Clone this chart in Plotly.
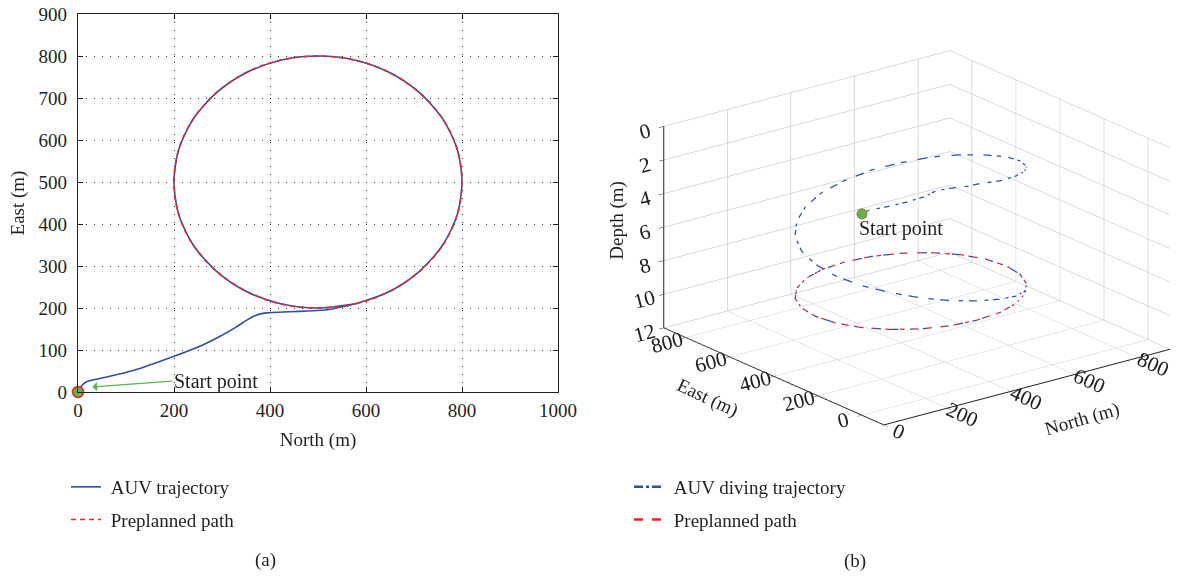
import plotly.graph_objects as go

W, H = 1180, 576
FONT = "Liberation Serif"
BLUE = "#2f4fa6"
RED = "#f0222a"
GREEN = "#5cb548"
INK = "#231f20"

# ---------------- panel (a): plan view ----------------
auv_north = [0, 5, 17, 45, 115, 200, 260, 300, 330, 350, 365, 380, 400, 440, 480,
             520, 560,
             578, 650, 712, 760, 790, 800, 790, 760, 712, 650, 578, 500, 422,
             350, 288, 240, 210, 200, 210, 240, 288, 350, 422, 500, 578]
auv_east = [0, 12, 24, 32, 51, 85, 112, 135, 155, 170, 180, 186, 189, 191, 193,
            196, 205,
            210, 240, 288, 350, 422, 500, 578, 650, 712, 760, 790, 800, 790,
            760, 712, 650, 578, 500, 422, 350, 288, 240, 210, 200, 210]

plan_north = [500, 578, 650, 712, 760, 790, 800, 790, 760, 712, 650, 578, 500,
              422, 350, 288, 240, 210, 200, 210, 240, 288, 350, 422, 500]
plan_east = [200, 210, 240, 288, 350, 422, 500, 578, 650, 712, 760, 790, 800,
             790, 760, 712, 650, 578, 500, 422, 350, 288, 240, 210, 200]

start_2d = (0, 0)
arrow_tip = (30, 12)
label_pos = (196, 26)

x_ticks_2d = [0, 200, 400, 600, 800, 1000]
y_ticks_2d = [0, 100, 200, 300, 400, 500, 600, 700, 800, 900]

# ---------------- panel (b): 3-D view ----------------
dive_north = [0, 45, 115, 200, 282, 351, 400, 463,
              500, 578, 650, 712, 760, 790, 800, 790, 760, 712, 650, 578,
              500, 422, 350, 288, 240, 210, 200, 210, 240, 288, 350, 422,
              500, 578, 650, 712, 760, 790, 800, 790, 760, 712, 650, 578,
              500, 422, 350, 288, 240, 210, 200, 210, 240, 288, 350, 422,
              500, 578, 650]
dive_east = [0, 32, 51, 85, 122, 172, 189, 192,
             200, 210, 240, 288, 350, 422, 500, 578, 650, 712, 760, 790,
             800, 790, 760, 712, 650, 578, 500, 422, 350, 288, 240, 210,
             200, 210, 240, 288, 350, 422, 500, 578, 650, 712, 760, 790,
             800, 790, 760, 712, 650, 578, 500, 422, 350, 288, 240, 210,
             200, 210, 240]
dive_depth = [0.0, 0.2, 0.45, 0.8, 1.1, 1.4, 1.6, 1.8,
              1.9, 2.15, 2.4, 2.7, 3.0, 3.25, 3.5, 3.8, 4.05, 4.3, 4.6, 4.85,
              5.15, 5.4, 5.7, 6.0, 6.3, 6.6, 6.9, 7.2, 7.5, 7.8, 8.15, 8.5,
              8.85, 9.2, 9.55, 9.85, 10.0, 10.0, 10.0, 10.0, 10.0, 10.0, 10.0, 10.0,
              10.0, 10.0, 10.0, 10.0, 10.0, 10.0, 10.0, 10.0, 10.0, 10.0, 10.0, 10.0,
              10.0, 10.0, 10.0]
plan_depth = [10.0] * len(plan_north)
start_3d = (0, 0, 0)

n_range_3d = [0, 900]
e_range_3d = [-100, 900]
d_range_3d = [0, 12]
n_ticks_3d = [0, 200, 400, 600, 800]
e_ticks_3d = [0, 200, 400, 600, 800]
d_ticks_3d = [0, 2, 4, 6, 8, 10, 12]

NB = "\u00a0"

fig = go.Figure()

# (a) traces
fig.add_trace(go.Scatter(x=auv_north, y=auv_east, mode="lines",
                         line=dict(color=BLUE, width=1.6, shape="spline", smoothing=0.8),
                         name=NB + "AUV trajectory", legend="legend", legendgroup="a1"))
fig.add_trace(go.Scatter(x=plan_north, y=plan_east, mode="lines",
                         line=dict(color=RED, width=1.6, dash="5px,4px", shape="spline", smoothing=1.0),
                         name=NB + "Preplanned path", legend="legend", legendgroup="a2"))
fig.add_trace(go.Scatter(x=[start_2d[0]], y=[start_2d[1]], mode="markers",
                         marker=dict(color=GREEN, size=11, line=dict(color=RED, width=1.5)),
                         showlegend=False, cliponaxis=False))

# (b) traces
fig.add_trace(go.Scatter3d(x=dive_north, y=dive_east, z=[-d for d in dive_depth],
                           mode="lines", line=dict(color=BLUE, width=2.5, dash="dashdot"),
                           name=NB + "AUV diving trajectory", legend="legend2", legendgroup="b1",
                           scene="scene"))
fig.add_trace(go.Scatter3d(x=plan_north, y=plan_east, z=[-d for d in plan_depth],
                           mode="lines", line=dict(color=RED, width=2.5, dash="dash"),
                           name=NB + "Preplanned path", legend="legend2", legendgroup="b2",
                           scene="scene"))
fig.add_trace(go.Scatter3d(x=[start_3d[0]], y=[start_3d[1]], z=[-start_3d[2]],
                           mode="markers",
                           marker=dict(color=GREEN, size=6, line=dict(color=RED, width=2)),
                           showlegend=False, scene="scene"))

axis_font = dict(family=FONT, size=19, color=INK)
font3d = dict(family=FONT, size=16, color=INK)
title3d = dict(family=FONT, size=19, color=INK)
grid_dash = "1px,7px"

# camera: view direction (azimuth ~232 deg, elevation ~20 deg), shifted look-at point
view_dir = (-0.5754, -0.7432, 0.3414)
cam_center = (-0.103, 0.093, 0.030)
D = 2.0
axis3d = dict(showbackground=False, gridcolor="rgba(0,0,0,0.28)", gridwidth=1,
              zeroline=False, showline=True, linecolor=INK, linewidth=2,
              ticks="outside", ticklen=6, tickcolor=INK, tickfont=font3d,
              showspikes=False, title=dict(text=""))

n_mid = 600
e_mid = 400
d_mid = 6

fig.update_layout(
    template="none",
    width=W, height=H,
    margin=dict(l=0, r=0, t=0, b=0, autoexpand=False),
    paper_bgcolor="white", plot_bgcolor="white",
    font=dict(family=FONT, size=19, color=INK),
    xaxis=dict(domain=[78 / W, 558 / W], range=[0, 1000], tickvals=x_ticks_2d,
               automargin=False,
               showgrid=True, gridcolor="#333333", griddash=grid_dash, gridwidth=1,
               zeroline=False, showline=True, linecolor=INK, linewidth=1.2,
               mirror="allticks", ticks="inside", ticklen=5, tickcolor=INK,
               tickfont=axis_font, ticklabelstandoff=1,
               title=dict(text="North (m)", font=dict(family=FONT, size=19), standoff=12)),
    yaxis=dict(domain=[(H - 392) / H, (H - 14) / H], range=[0, 900], tickvals=y_ticks_2d,
               automargin=False,
               showgrid=True, gridcolor="#333333", griddash=grid_dash, gridwidth=1,
               zeroline=False, showline=True, linecolor=INK, linewidth=1.2,
               mirror="allticks", ticks="inside", ticklen=5, tickcolor=INK,
               tickfont=axis_font, ticklabelstandoff=6,
               title=dict(text="East (m)", font=dict(family=FONT, size=19), standoff=8)),
    legend=dict(x=66 / W, y=(H - 468) / H, xanchor="left", yanchor="top",
                bgcolor="rgba(0,0,0,0)", itemwidth=30, tracegroupgap=5,
                font=dict(family=FONT, size=19, color=INK)),
    legend2=dict(x=629 / W, y=(H - 468) / H, xanchor="left", yanchor="top",
                 bgcolor="rgba(0,0,0,0)", itemwidth=30, tracegroupgap=5,
                 font=dict(family=FONT, size=19, color=INK)),
    scene=dict(
        domain=dict(x=[0.5, 1.0], y=[0.2, 1.0]),
        aspectmode="manual", aspectratio=dict(x=1.57, y=1.56, z=0.93),
        camera=dict(projection=dict(type="orthographic"),
                    eye=dict(x=cam_center[0] + view_dir[0] * D,
                             y=cam_center[1] + view_dir[1] * D,
                             z=cam_center[2] + view_dir[2] * D),
                    center=dict(x=cam_center[0], y=cam_center[1], z=cam_center[2]),
                    up=dict(x=0, y=0, z=1)),
        xaxis=dict(range=n_range_3d, tickvals=n_ticks_3d, **axis3d),
        yaxis=dict(range=e_range_3d, tickvals=e_ticks_3d, **axis3d),
        zaxis=dict(range=[-d_range_3d[1], -d_range_3d[0]], tickvals=[-d for d in d_ticks_3d],
                   ticktext=[str(d) for d in d_ticks_3d], **axis3d),
        annotations=[
            dict(x=start_3d[0], y=start_3d[1], z=-start_3d[2], text="Start point",
                 showarrow=False, xanchor="left", yanchor="top", xshift=-5, yshift=-1,
                 font=dict(family=FONT, size=20, color=INK)),
            dict(x=n_range_3d[0], y=e_range_3d[1], z=-d_mid, text="Depth (m)",
                 showarrow=False, textangle=-90, xshift=-47, yshift=7, font=title3d),
            dict(x=n_range_3d[0], y=e_mid, z=-d_range_3d[1], text="East (m)",
                 showarrow=False, textangle=25, xshift=-66, yshift=-22, font=title3d),
            dict(x=n_mid, y=e_range_3d[0], z=-d_range_3d[1], text="North (m)",
                 showarrow=False, textangle=-16, xshift=8, yshift=-45, font=title3d),
        ],
    ),
    annotations=[
        dict(x=arrow_tip[0], y=arrow_tip[1], ax=label_pos[0], ay=label_pos[1],
             xref="x", yref="y", axref="x", ayref="y", text="Start point",
             showarrow=True, arrowhead=1, arrowsize=1.2, arrowwidth=1.3, arrowcolor=GREEN,
             xanchor="left", font=dict(family=FONT, size=20, color=INK)),
        dict(x=265 / W, y=(H - 560) / H, xref="paper", yref="paper", text="(a)",
             xanchor="center", yanchor="middle",
             showarrow=False, font=dict(family=FONT, size=19, color=INK)),
        dict(x=855 / W, y=(H - 561) / H, xref="paper", yref="paper", text="(b)",
             xanchor="center", yanchor="middle",
             showarrow=False, font=dict(family=FONT, size=19, color=INK)),
    ],
)

fig.write_html("out.html")
